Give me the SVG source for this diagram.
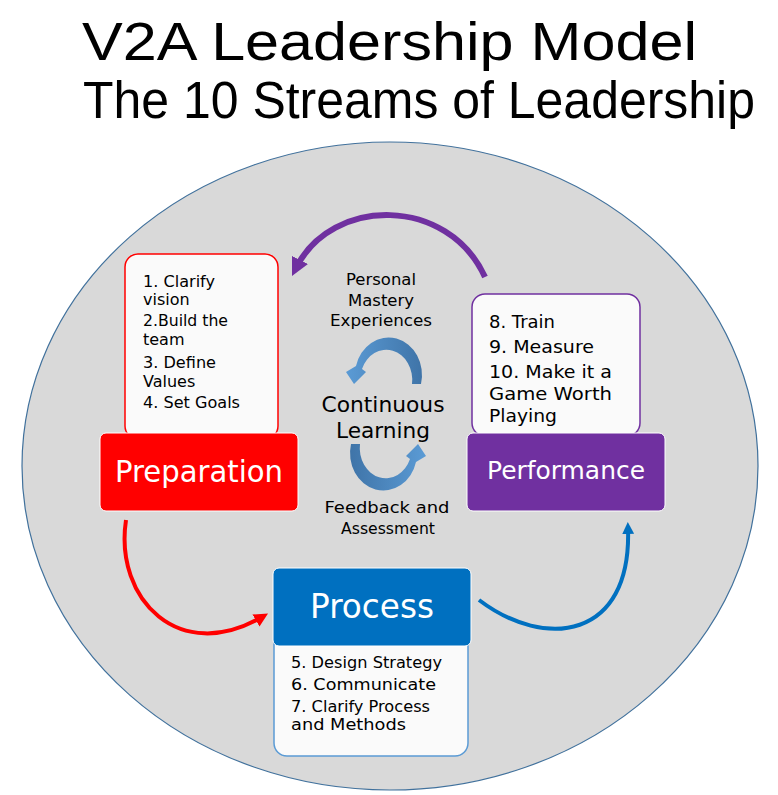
<svg xmlns="http://www.w3.org/2000/svg" width="778" height="795" viewBox="0 0 778 795">
<defs>
<style>
text{font-family:"DejaVu Sans","Open Sans",sans-serif;fill:#000}
.t{font-family:"Liberation Sans","DejaVu Sans",sans-serif}
.li{font-size:16px}
.lq{font-size:15px}
.lp{font-size:18px}
.mid{font-size:15.5px;text-anchor:middle}
.big{font-size:21px;text-anchor:middle}
.hd{fill:#fff;text-anchor:middle}
.conn{fill:none}
</style>
<marker id="mr" markerUnits="userSpaceOnUse" viewBox="0 0 12 12" refX="6" refY="6" markerWidth="14" markerHeight="14" orient="auto"><path d="M0,0 L12,6 L0,12 z" fill="#ff0000"/></marker>
<marker id="mb" markerUnits="userSpaceOnUse" viewBox="0 0 12 12" refX="6" refY="6" markerWidth="12" markerHeight="12" orient="auto"><path d="M0,0 L12,6 L0,12 z" fill="#0070c0"/></marker>
<marker id="mp" markerUnits="userSpaceOnUse" viewBox="0 0 12 12" refX="6" refY="6" markerWidth="18" markerHeight="18" orient="auto"><path d="M0,0 L12,6 L0,12 z" fill="#7030a0"/></marker>
<linearGradient id="cg" x1="0" y1="0" x2="1" y2="0">
<stop offset="0" stop-color="#5b9bd5"/><stop offset="1" stop-color="#3f74a8"/>
</linearGradient>
</defs>
<rect width="778" height="795" fill="#fff"/>
<g id="title">
<text class="t" x="82" y="60" font-size="54" textLength="615" lengthAdjust="spacingAndGlyphs">V2A Leadership Model</text>
<text class="t" x="83" y="118" font-size="51" textLength="672" lengthAdjust="spacingAndGlyphs">The 10 Streams of Leadership</text>
</g>
<g id="background">
<ellipse cx="390" cy="466" rx="368" ry="324" fill="#d9d9d9" stroke="#41719c" stroke-width="1.2"/>
</g>
<g id="connectors">
<path class="conn" d="M 126 520 C 114 600, 180 665, 262 617" stroke="#ff0000" stroke-width="4" marker-end="url(#mr)"/>
<path class="conn" d="M 479 600 C 545 650, 632 640, 628 528" stroke="#0070c0" stroke-width="4" marker-end="url(#mb)"/>
<path class="conn" d="M 485 277 C 448 196, 332 196, 296 268" stroke="#7030a0" stroke-width="6" marker-end="url(#mp)"/>
</g>
<g id="preparation-list">
<rect x="125" y="254" width="153" height="185" rx="13" fill="#fafafa" stroke="#ff0000" stroke-width="1.5"/>
<text class="li" x="143" y="287" textLength="72" lengthAdjust="spacingAndGlyphs">1. Clarify</text>
<text class="li" x="143" y="305">vision</text>
<text class="li" x="143" y="326" textLength="85" lengthAdjust="spacingAndGlyphs">2.Build the</text>
<text class="li" x="143" y="345">team</text>
<text class="li" x="143" y="368" textLength="73" lengthAdjust="spacingAndGlyphs">3. Define</text>
<text class="li" x="143" y="387">Values</text>
<text class="li" x="143" y="408" textLength="97" lengthAdjust="spacingAndGlyphs">4. Set Goals</text>
</g>
<g id="preparation">
<rect x="100" y="433" width="198" height="78" rx="6" fill="#ff0000" stroke="#fff" stroke-width="1"/>
<text class="hd" x="199" y="482" font-size="30" textLength="168" lengthAdjust="spacingAndGlyphs">Preparation</text>
</g>
<g id="performance-list">
<rect x="472" y="294" width="168" height="142" rx="13" fill="#fafafa" stroke="#7030a0" stroke-width="1.5"/>
<text class="lp" x="489" y="328" textLength="66" lengthAdjust="spacingAndGlyphs">8. Train</text>
<text class="lp" x="489" y="353" textLength="105" lengthAdjust="spacingAndGlyphs">9. Measure</text>
<text class="lp" x="489" y="378" textLength="123" lengthAdjust="spacingAndGlyphs">10. Make it a</text>
<text class="lp" x="489" y="400" textLength="123" lengthAdjust="spacingAndGlyphs">Game Worth</text>
<text class="lp" x="489" y="422" textLength="68" lengthAdjust="spacingAndGlyphs">Playing</text>
</g>
<g id="performance">
<rect x="467" y="433" width="198" height="78" rx="6" fill="#7030a0" stroke="#fff" stroke-width="1"/>
<text class="hd" x="566" y="479" font-size="25" textLength="158" lengthAdjust="spacingAndGlyphs">Performance</text>
</g>
<g id="process-list">
<rect x="274" y="620" width="194" height="136" rx="13" fill="#fafafa" stroke="#5b9bd5" stroke-width="1.5"/>
<text class="lq" x="291" y="668" textLength="151" lengthAdjust="spacingAndGlyphs">5. Design Strategy</text>
<text class="lq" x="291" y="690" textLength="145" lengthAdjust="spacingAndGlyphs">6. Communicate</text>
<text class="lq" x="291" y="712" textLength="139" lengthAdjust="spacingAndGlyphs">7. Clarify Process</text>
<text class="lq" x="291" y="730" textLength="115" lengthAdjust="spacingAndGlyphs">and Methods</text>
</g>
<g id="process">
<rect x="273" y="568" width="198" height="78" rx="6" fill="#0070c0" stroke="#fff" stroke-width="1"/>
<text class="hd" x="372" y="618" font-size="33" textLength="124" lengthAdjust="spacingAndGlyphs">Process</text>
</g>
<g id="continuous-learning">
<text class="mid" x="381" y="285" textLength="70" lengthAdjust="spacingAndGlyphs">Personal</text>
<text class="mid" x="381" y="306" textLength="66" lengthAdjust="spacingAndGlyphs">Mastery</text>
<text class="mid" x="381" y="326" textLength="102" lengthAdjust="spacingAndGlyphs">Experiences</text>
<path d="M 421 384 A 33 37 0 0 0 356 366 L 346 372 L 354 384 L 366 372 L 362 369 A 26 30 0 0 1 412 384 Z" fill="url(#cg)"/>
<path d="M 421 384 A 33 37 0 0 0 356 366 L 346 372 L 354 384 L 366 372 L 362 369 A 26 30 0 0 1 412 384 Z" fill="url(#cg)" transform="rotate(180 386 414)"/>
<text class="big" x="383" y="412" textLength="123" lengthAdjust="spacingAndGlyphs">Continuous</text>
<text class="big" x="383" y="438" textLength="94" lengthAdjust="spacingAndGlyphs">Learning</text>
<text class="mid" x="387" y="513" textLength="125" lengthAdjust="spacingAndGlyphs">Feedback and</text>
<text class="mid" x="388" y="534" textLength="94" lengthAdjust="spacingAndGlyphs">Assessment</text>
</g>
</svg>
